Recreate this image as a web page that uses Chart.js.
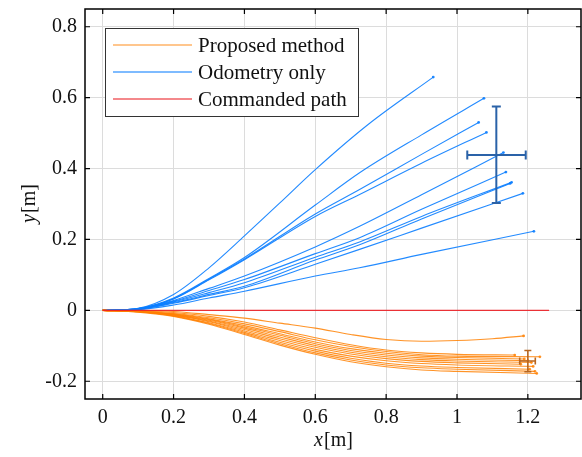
<!DOCTYPE html>
<html>
<head>
<meta charset="utf-8">
<script src="https://cdn.jsdelivr.net/npm/chart.js@4.4.1/dist/chart.umd.min.js"></script>
<style>
  html, body { margin: 0; padding: 0; background: #fff; overflow: hidden; }
  #wrap { width: 582px; height: 457px; position: relative; }
  canvas { display: block; }
</style>
</head>
<body>
<div id="wrap"><canvas id="traj"></canvas></div>
<script>
// ticks
const xTicks = [0, 0.2, 0.4, 0.6, 0.8, 1, 1.2];
const yTicks = [-0.2, 0, 0.2, 0.4, 0.6, 0.8];

const legendLabels = ['Proposed method', 'Odometry only', 'Commanded path'];

// odometry only runs, [x, y] in m
const odom1 = [[0,0],[0.1,0.006],[0.2,0.045],[0.3,0.12],[0.4,0.21],[0.5,0.303],[0.6,0.397],[0.75,0.525],[0.933,0.658]];
const odom2 = [[0,0],[0.1,0.005],[0.2,0.035],[0.3,0.09],[0.4,0.149],[0.6,0.297],[0.725,0.388],[0.9,0.495],[1.076,0.598]];
const odom3 = [[0,0],[0.1,0.005],[0.2,0.033],[0.3,0.088],[0.4,0.145],[0.6,0.272],[0.725,0.341],[0.9,0.44],[1.061,0.530]];
const odom4 = [[0,0],[0.1,0.005],[0.2,0.032],[0.3,0.086],[0.4,0.143],[0.6,0.265],[0.725,0.327],[0.9,0.415],[1.083,0.502]];
const odom5 = [[0,0],[0.1,0.004],[0.2,0.028],[0.3,0.062],[0.4,0.097],[0.6,0.179],[0.725,0.237],[0.9,0.326],[1.131,0.445]];
const odom6 = [[0,0],[0.1,0.004],[0.2,0.026],[0.3,0.056],[0.4,0.087],[0.6,0.16],[0.725,0.205],[0.9,0.285],[1.138,0.390]];
const odom7 = [[0,0],[0.1,0.004],[0.2,0.024],[0.3,0.05],[0.4,0.078],[0.6,0.15],[0.725,0.193],[0.9,0.265],[1.154,0.361]];
const odom8 = [[0,0],[0.1,0.003],[0.2,0.022],[0.3,0.045],[0.4,0.068],[0.6,0.142],[0.725,0.185],[0.9,0.258],[1.15,0.358]];
const odom9 = [[0,0],[0.1,0.003],[0.2,0.02],[0.3,0.042],[0.4,0.064],[0.6,0.13],[0.725,0.172],[0.9,0.232],[1.186,0.330]];
const odom10 = [[0,0],[0.1,0.002],[0.2,0.015],[0.3,0.035],[0.4,0.054],[0.6,0.097],[0.725,0.12],[0.9,0.158],[1.217,0.223]];

// proposed method runs
const prop1 = [[0,0],[0.1,-0.001],[0.2,-0.003],[0.3,-0.012],[0.4,-0.022],[0.5,-0.036],[0.6,-0.05],[0.7,-0.068],[0.8,-0.082],[0.9,-0.087],[1.0,-0.085],[1.1,-0.08],[1.188,-0.072]];
const prop2 = [[0,0],[0.1,-0.002],[0.2,-0.006],[0.3,-0.017],[0.4,-0.033],[0.5,-0.055],[0.6,-0.077],[0.7,-0.097],[0.8,-0.112],[0.9,-0.12],[1.0,-0.124],[1.163,-0.126]];
const prop3 = [[0,0],[0.1,-0.003],[0.2,-0.009],[0.3,-0.021],[0.4,-0.038],[0.5,-0.06],[0.6,-0.083],[0.7,-0.102],[0.8,-0.116],[0.9,-0.125],[1.0,-0.129],[1.234,-0.131]];
const prop4 = [[0,0],[0.1,-0.003],[0.2,-0.01],[0.3,-0.024],[0.4,-0.043],[0.5,-0.066],[0.6,-0.089],[0.7,-0.108],[0.8,-0.121],[0.9,-0.129],[1.0,-0.133],[1.19,-0.137]];
const prop5 = [[0,0],[0.1,-0.003],[0.2,-0.011],[0.3,-0.026],[0.4,-0.047],[0.5,-0.07],[0.6,-0.094],[0.7,-0.113],[0.8,-0.126],[0.9,-0.134],[1.0,-0.138],[1.2,-0.142]];
const prop6 = [[0,0],[0.1,-0.003],[0.2,-0.012],[0.3,-0.028],[0.4,-0.05],[0.5,-0.075],[0.6,-0.099],[0.7,-0.118],[0.8,-0.131],[0.9,-0.139],[1.0,-0.143],[1.21,-0.147]];
const prop7 = [[0,0],[0.1,-0.004],[0.2,-0.013],[0.3,-0.03],[0.4,-0.054],[0.5,-0.08],[0.6,-0.104],[0.7,-0.123],[0.8,-0.136],[0.9,-0.144],[1.0,-0.148],[1.18,-0.152]];
const prop8 = [[0,0],[0.1,-0.004],[0.2,-0.014],[0.3,-0.032],[0.4,-0.058],[0.5,-0.085],[0.6,-0.11],[0.7,-0.129],[0.8,-0.142],[0.9,-0.15],[1.0,-0.154],[1.215,-0.158]];
const prop9 = [[0,0],[0.1,-0.004],[0.2,-0.015],[0.3,-0.035],[0.4,-0.062],[0.5,-0.09],[0.6,-0.115],[0.7,-0.135],[0.8,-0.149],[0.9,-0.157],[1.0,-0.161],[1.205,-0.166]];
const prop10 = [[0,0],[0.1,-0.004],[0.2,-0.016],[0.3,-0.037],[0.4,-0.065],[0.5,-0.094],[0.6,-0.12],[0.7,-0.14],[0.8,-0.154],[0.9,-0.162],[1.0,-0.166],[1.22,-0.172]];
const prop11 = [[0,0],[0.1,-0.005],[0.2,-0.017],[0.3,-0.039],[0.4,-0.068],[0.5,-0.098],[0.6,-0.124],[0.7,-0.145],[0.8,-0.159],[0.9,-0.168],[1.0,-0.172],[1.225,-0.178]];

// commanded straight path
const commanded = [[0,0],[1.26,0]];

// end-point spread: [centre x, centre y, x low, x high, y low, y high]
const odomSpread = [1.111, 0.4385, 1.029, 1.194, 0.303, 0.575];
const propSpread = [1.2, -0.143, 1.177, 1.221, -0.173, -0.113];

const odomRuns = [odom1, odom2, odom3, odom4, odom5, odom6, odom7, odom8, odom9, odom10];
const propRuns = [prop1, prop2, prop3, prop4, prop5, prop6, prop7, prop8, prop9, prop10, prop11];

const BLUE = 'rgba(10,125,255,0.9)';
const ORANGE = 'rgba(255,128,0,0.85)';
const RED = 'rgba(235,30,35,0.9)';
const FONT = '"Liberation Serif", "DejaVu Serif", serif';

function toPts(arr) {
    return arr.map(p => ({ x: p[0], y: p[1] }));
}

function runDataset(arr, color, order) {
    return {
        data: toPts(arr),
        borderColor: color,
        backgroundColor: color,
        borderWidth: 1.1,
        cubicInterpolationMode: 'monotone',
        pointRadius: (ctx) => ctx.dataIndex === arr.length - 1 ? 1.4 : 0,
        pointBorderWidth: 0,
        fill: false,
        order: order
    };
}

const datasets = [];
odomRuns.forEach(r => datasets.push(runDataset(r, BLUE, 3)));
propRuns.forEach(r => datasets.push(runDataset(r, ORANGE, 2)));
datasets.push({
    data: toPts(commanded),
    borderColor: RED,
    borderWidth: 1.3,
    pointRadius: 0,
    fill: false,
    order: 1
});

// frame, inward ticks, error bars, legend, axis titles
const extrasPlugin = {
    id: 'extras',
    afterDatasetsDraw(chart) {
        const ctx = chart.ctx;
        const xs = chart.scales.x, ys = chart.scales.y;
        const a = chart.chartArea;

        function spread(s, color, lw, cap) {
            const cx = xs.getPixelForValue(s[0]), cy = ys.getPixelForValue(s[1]);
            const x0 = xs.getPixelForValue(s[2]), x1 = xs.getPixelForValue(s[3]);
            const y0 = ys.getPixelForValue(s[4]), y1 = ys.getPixelForValue(s[5]);
            ctx.save();
            ctx.strokeStyle = color;
            ctx.lineWidth = lw;
            ctx.beginPath();
            ctx.moveTo(x0, cy); ctx.lineTo(x1, cy);
            ctx.moveTo(cx, y0); ctx.lineTo(cx, y1);
            ctx.moveTo(x0, cy - cap); ctx.lineTo(x0, cy + cap);
            ctx.moveTo(x1, cy - cap); ctx.lineTo(x1, cy + cap);
            ctx.moveTo(cx - cap, y0); ctx.lineTo(cx + cap, y0);
            ctx.moveTo(cx - cap, y1); ctx.lineTo(cx + cap, y1);
            ctx.stroke();
            ctx.restore();
        }
        spread(odomSpread, '#2a62a8', 2, 4.5);
        spread(propSpread, '#b8661f', 1.6, 3.5);

        ctx.save();
        ctx.strokeStyle = '#000';
        ctx.lineWidth = 1.5;
        ctx.strokeRect(a.left, a.top, a.right - a.left, a.bottom - a.top);
        ctx.lineWidth = 1.2;
        ctx.beginPath();
        xTicks.forEach(v => {
            const px = xs.getPixelForValue(v);
            ctx.moveTo(px, a.bottom); ctx.lineTo(px, a.bottom - 5);
            ctx.moveTo(px, a.top); ctx.lineTo(px, a.top + 5);
        });
        yTicks.forEach(v => {
            const py = ys.getPixelForValue(v);
            ctx.moveTo(a.left, py); ctx.lineTo(a.left + 5, py);
            ctx.moveTo(a.right, py); ctx.lineTo(a.right - 5, py);
        });
        ctx.stroke();

        // legend
        const lx = 105, ly = 28, lw = 253, lh = 88;
        ctx.fillStyle = '#fff';
        ctx.fillRect(lx, ly, lw, lh);
        ctx.strokeStyle = '#333';
        ctx.lineWidth = 1;
        ctx.strokeRect(lx + 0.5, ly + 0.5, lw, lh);
        const legendColors = ['rgba(255,128,0,0.6)', 'rgba(10,125,255,0.7)', 'rgba(235,30,35,0.7)'];
        ctx.font = '21px ' + FONT;
        ctx.textBaseline = 'middle';
        ctx.textAlign = 'left';
        legendLabels.forEach((t, i) => {
            const yy = 45 + i * 27;
            ctx.strokeStyle = legendColors[i];
            ctx.lineWidth = 1.3;
            ctx.beginPath();
            ctx.moveTo(113, yy); ctx.lineTo(192, yy);
            ctx.stroke();
            ctx.fillStyle = '#111';
            ctx.fillText(t, 198, yy + 1);
        });

        // axis titles, italic variable + unit
        function title(x, y, rot) {
            ctx.save();
            ctx.translate(x, y);
            ctx.rotate(rot);
            ctx.fillStyle = '#111';
            ctx.textBaseline = 'middle';
            ctx.font = 'italic 20px ' + FONT;
            const v = rot ? 'y' : 'x';
            const w1 = ctx.measureText(v).width;
            ctx.font = '20px ' + FONT;
            const w2 = ctx.measureText('[m]').width;
            const start = -(w1 + w2) / 2;
            ctx.font = 'italic 20px ' + FONT;
            ctx.textAlign = 'left';
            ctx.fillText(v, start, 0);
            ctx.font = '20px ' + FONT;
            ctx.fillText('[m]', start + w1 + 1, 0);
            ctx.restore();
        }
        title((a.left + a.right) / 2, 441, 0);
        title(30, (a.top + a.bottom) / 2, -Math.PI / 2);
        ctx.restore();
    }
};

const tickFmt = (v) => String(+Number(v).toFixed(1));

new Chart(document.getElementById('traj'), {
    type: 'line',
    data: { datasets: datasets },
    plugins: [extrasPlugin],
    options: {
        responsive: true,
        maintainAspectRatio: false,
        animation: false,
        parsing: false,
        layout: { autoPadding: false, padding: { top: 9, right: 1, left: 0, bottom: 0 } },
        plugins: { legend: { display: false }, tooltip: { enabled: false } },
        scales: {
            x: {
                type: 'linear',
                min: -0.05,
                max: 1.35,
                afterBuildTicks: (s) => { s.ticks = xTicks.map(v => ({ value: v })); },
                afterFit: (s) => { s.height = 58; s.paddingLeft = 0; s.paddingRight = 0; },
                grid: { color: '#dcdcdc', lineWidth: 1, drawTicks: false },
                border: { display: false },
                ticks: { padding: 7, color: '#111', font: { family: FONT, size: 20 }, callback: tickFmt, maxRotation: 0 }
            },
            y: {
                type: 'linear',
                min: -0.25,
                max: 0.85,
                afterBuildTicks: (s) => { s.ticks = yTicks.map(v => ({ value: v })); },
                afterFit: (s) => { s.width = 85; s.paddingTop = 0; s.paddingBottom = 0; },
                grid: { color: '#dcdcdc', lineWidth: 1, drawTicks: false },
                border: { display: false },
                ticks: { padding: 8, color: '#111', font: { family: FONT, size: 20 }, callback: tickFmt }
            }
        }
    }
});
</script>
</body>
</html>
